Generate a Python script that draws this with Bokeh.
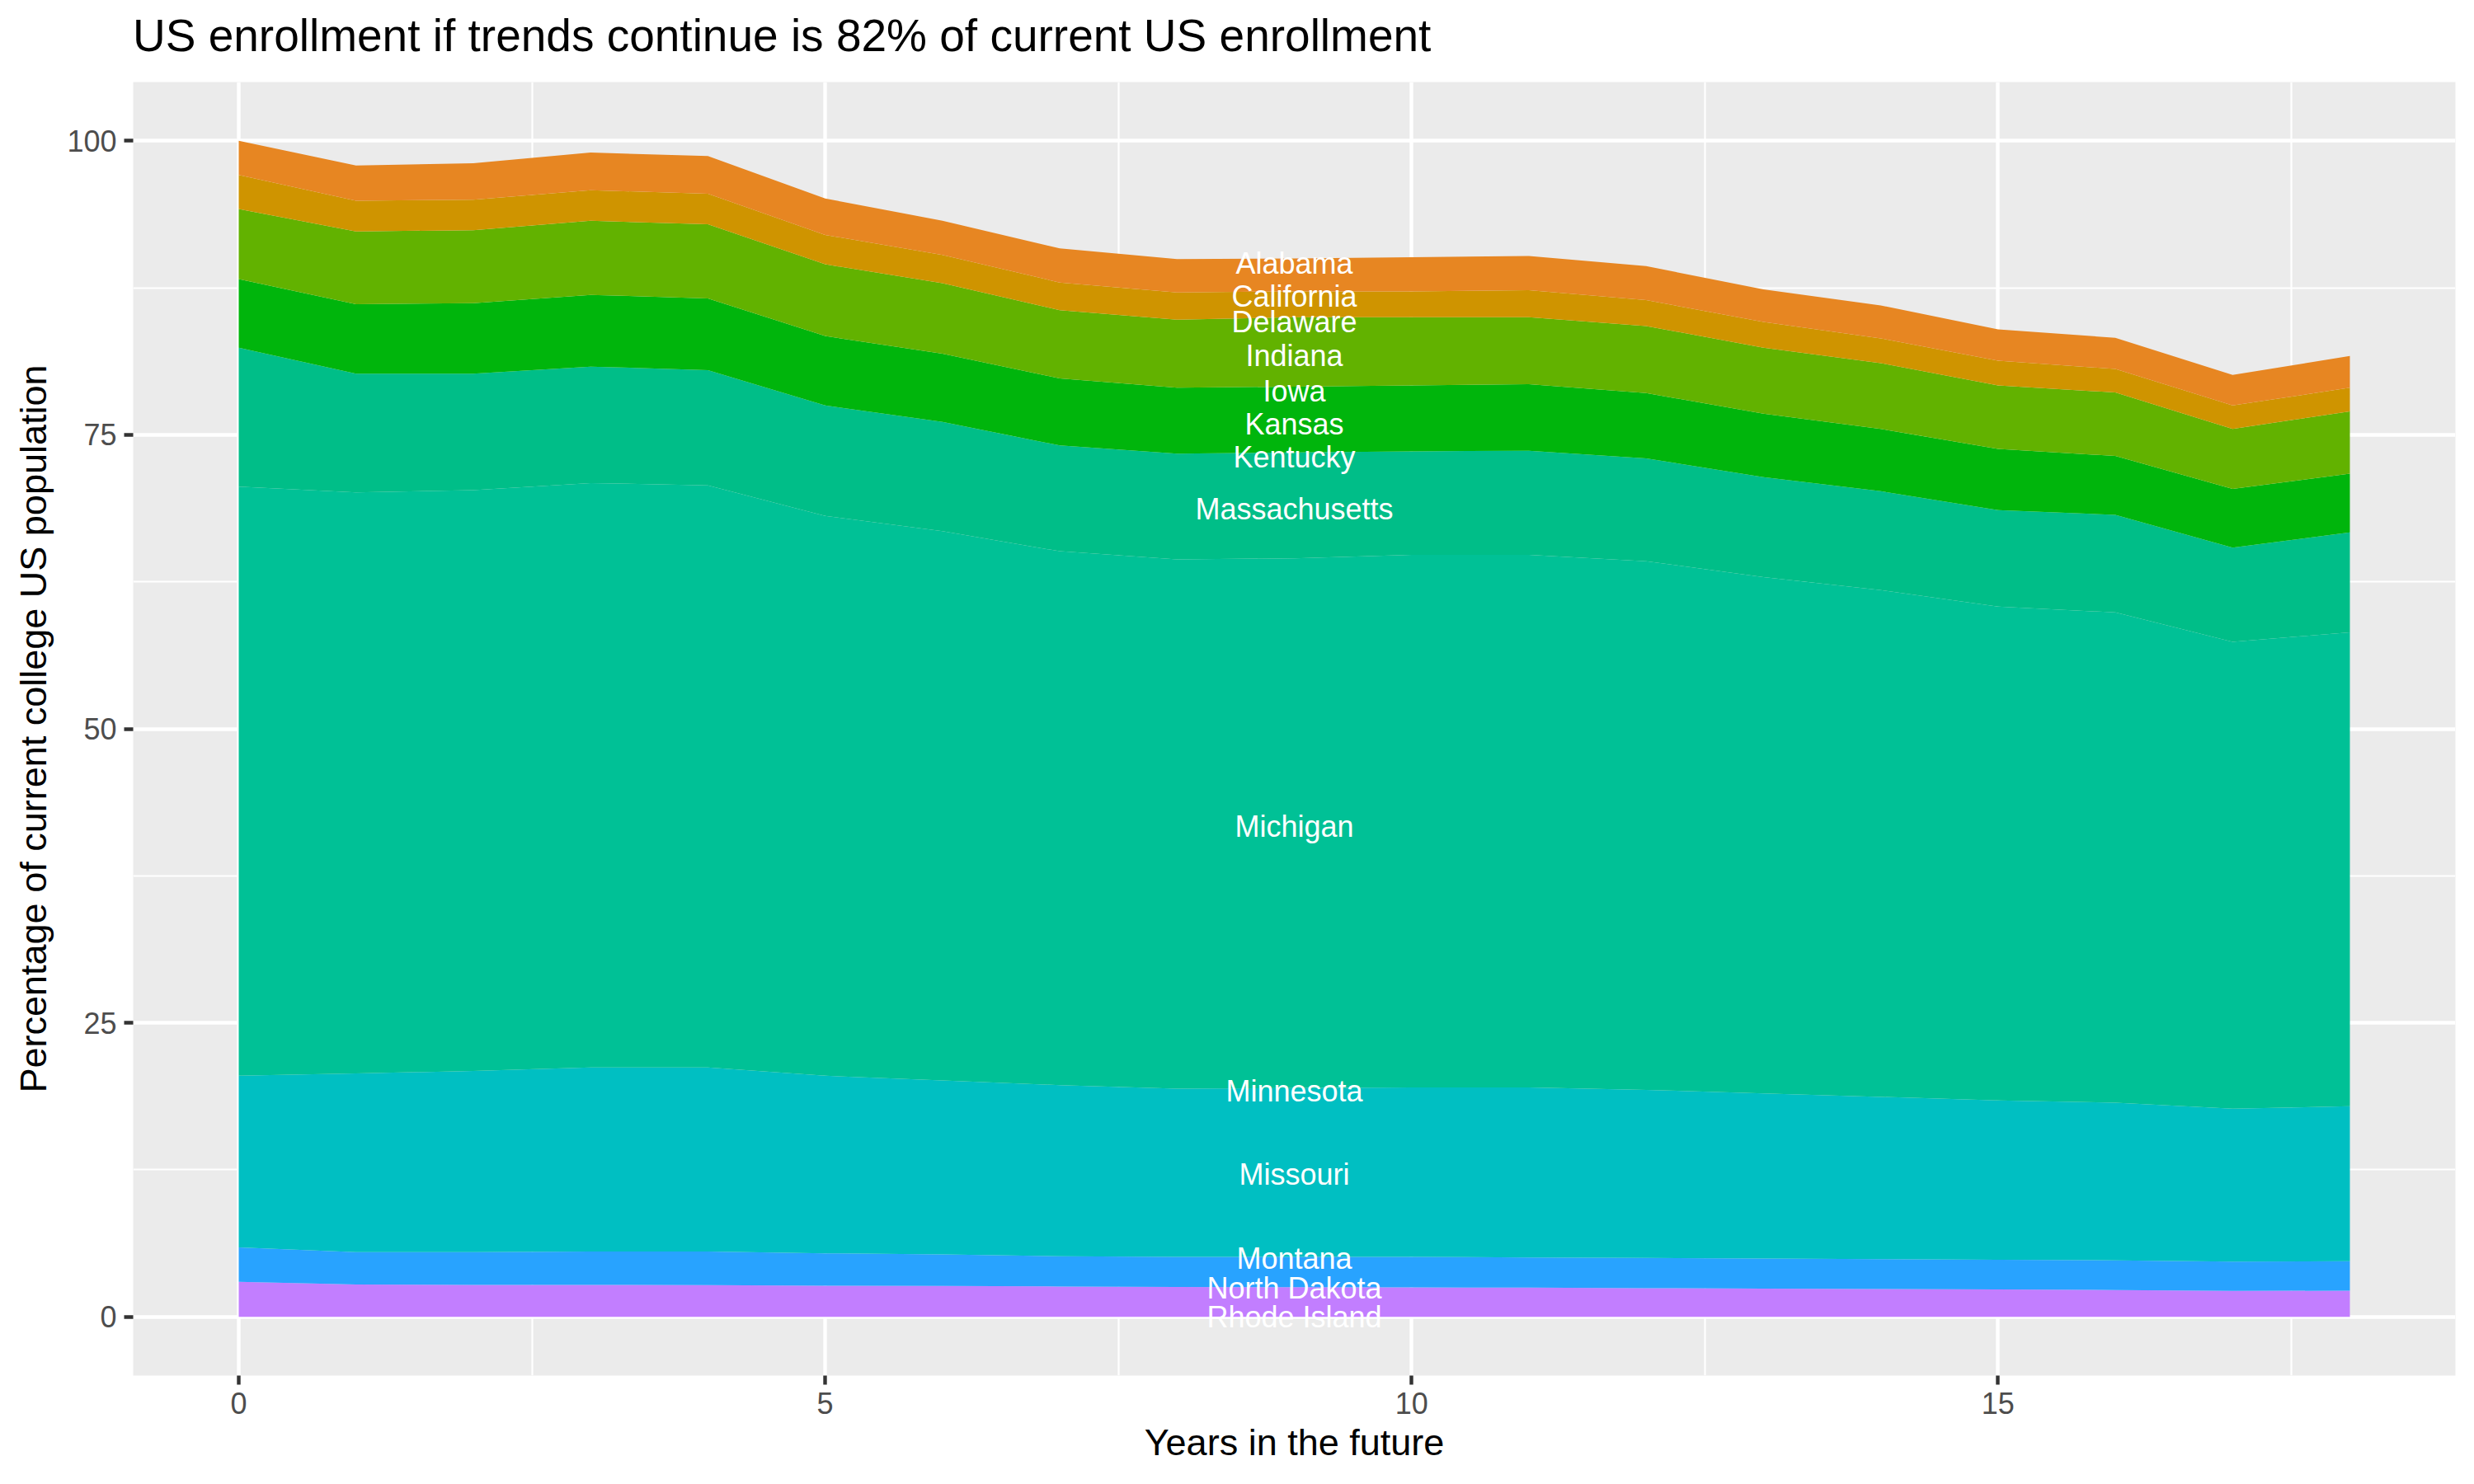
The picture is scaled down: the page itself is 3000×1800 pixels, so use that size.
from bokeh.plotting import figure
from bokeh.models import ColumnDataSource, FixedTicker, Div
from bokeh.layouts import column
from bokeh.core.properties import value
from bokeh.embed import file_html
from bokeh.resources import INLINE

years = list(range(19))

# share of current college population per colour band, bottom band first
rhode_island = [2.97, 2.74, 2.72, 2.72, 2.70, 2.65, 2.62, 2.58, 2.54, 2.52, 2.50, 2.48, 2.44, 2.40, 2.36, 2.32, 2.28, 2.20, 2.22]
montana = [2.93, 2.76, 2.78, 2.83, 2.85, 2.75, 2.68, 2.57, 2.56, 2.58, 2.60, 2.57, 2.56, 2.55, 2.54, 2.53, 2.52, 2.50, 2.50]
missouri = [14.6, 15.2, 15.4, 15.65, 15.65, 15.1, 14.8, 14.55, 14.3, 14.35, 14.4, 14.45, 14.3, 14.05, 13.8, 13.55, 13.4, 13.0, 13.18]
michigan = [50.1, 49.4, 49.4, 49.7, 49.5, 47.6, 46.7, 45.4, 45.0, 45.05, 45.3, 45.3, 44.95, 43.9, 43.1, 42.0, 41.7, 39.7, 40.3]
massachusetts = [11.8, 10.1, 9.9, 9.9, 9.8, 9.4, 9.3, 9.0, 9.0, 9.0, 8.8, 8.85, 8.75, 8.5, 8.4, 8.2, 8.3, 8.0, 8.5]
kansas = [5.85, 5.9, 6.0, 6.1, 6.1, 5.9, 5.8, 5.7, 5.6, 5.6, 5.6, 5.65, 5.55, 5.4, 5.3, 5.2, 5.0, 5.0, 5.0]
indiana = [5.95, 6.2, 6.2, 6.3, 6.3, 6.1, 6.0, 5.8, 5.8, 5.9, 5.8, 5.7, 5.7, 5.6, 5.6, 5.4, 5.4, 5.1, 5.3]
california = [2.9, 2.6, 2.6, 2.6, 2.6, 2.5, 2.4, 2.35, 2.3, 2.2, 2.2, 2.3, 2.2, 2.2, 2.1, 2.1, 2.0, 2.0, 2.0]
alabama = [2.9, 3.0, 3.1, 3.2, 3.2, 3.1, 2.9, 2.9, 2.85, 2.8, 2.9, 2.9, 2.9, 2.76, 2.8, 2.67, 2.65, 2.6, 2.7]

bands = ["rhode_island", "montana", "missouri", "michigan", "massachusetts",
         "kansas", "indiana", "california", "alabama"]
band_colors = ["#C27EFF", "#28A3FF", "#00BFC2", "#00C196", "#00BE88",
               "#00B50C", "#62B200", "#CF9400", "#E78622"]

label_year = 9
label_states = ["Alabama", "California", "Delaware", "Indiana", "Iowa", "Kansas", "Kentucky",
                "Massachusetts", "Michigan", "Minnesota", "Missouri", "Montana",
                "North Dakota", "Rhode Island"]
label_values = [89.6, 86.8, 84.6, 81.7, 78.7, 75.9, 73.1, 68.7, 41.7, 19.2, 12.1, 4.95, 2.4, 0.0]

source = ColumnDataSource(dict(year=years, rhode_island=rhode_island, montana=montana,
                               missouri=missouri, michigan=michigan, massachusetts=massachusetts,
                               kansas=kansas, indiana=indiana, california=california,
                               alabama=alabama))
labels = ColumnDataSource(dict(x=[label_year] * len(label_states), y=label_values, text=label_states))

FONT = "Liberation Sans"

# title as a Div above the figure, so it can sit close to the top like ggplot's
title = Div(text="US enrollment if trends continue is 82% of current US enrollment",
            width=2984, height=80, margin=0,
            styles={"font-family": FONT, "font-size": "55px", "line-height": "55px",
                    "color": "black", "padding-left": "161px", "padding-top": "16px",
                    "white-space": "nowrap", "box-sizing": "border-box"})

p = figure(width=2984, height=1704, x_range=(-0.9, 18.9), y_range=(-5, 105),
           output_backend="svg", toolbar_location=None,
           min_border_left=161, min_border_right=7, min_border_top=19, min_border_bottom=116)

p.background_fill_color = "#EBEBEB"
p.border_fill_color = "white"
p.outline_line_color = None

p.varea_stack(stackers=bands, x="year", color=band_colors, source=source)

p.text(x="x", y="y", text="text", source=labels, text_color="white",
       text_font=value(FONT), text_font_size="36px",
       text_align="center", text_baseline="middle")

p.xaxis.ticker = FixedTicker(ticks=[0, 5, 10, 15], minor_ticks=[2.5, 7.5, 12.5, 17.5])
p.yaxis.ticker = FixedTicker(ticks=[0, 25, 50, 75, 100], minor_ticks=[12.5, 37.5, 62.5, 87.5])

for ax in (p.xaxis, p.yaxis):
    ax.axis_line_color = None
    ax.minor_tick_line_color = None
    ax.major_tick_line_color = "#333333"
    ax.major_tick_line_width = 4.4
    ax.major_tick_in = 0
    ax.major_tick_out = 11
    ax.major_label_text_font = FONT
    ax.major_label_text_font_size = "36px"
    ax.major_label_text_color = "#4D4D4D"
    ax.major_label_standoff = 9
    ax.axis_label_text_font = FONT
    ax.axis_label_text_font_size = "45px"
    ax.axis_label_text_font_style = "normal"
    ax.axis_label_text_color = "black"

p.xaxis.axis_label = "Years in the future"
p.yaxis.axis_label = "Percentage of current college US population"
p.xaxis.axis_label_standoff = 6
p.yaxis.axis_label_standoff = 12

for g in (p.xgrid, p.ygrid):
    g.grid_line_color = "white"
    g.grid_line_width = 4.4
    g.minor_grid_line_color = "white"
    g.minor_grid_line_width = 2.2

layout = column(title, p, spacing=0)

open("out.html", "w").write(file_html(layout, INLINE))
